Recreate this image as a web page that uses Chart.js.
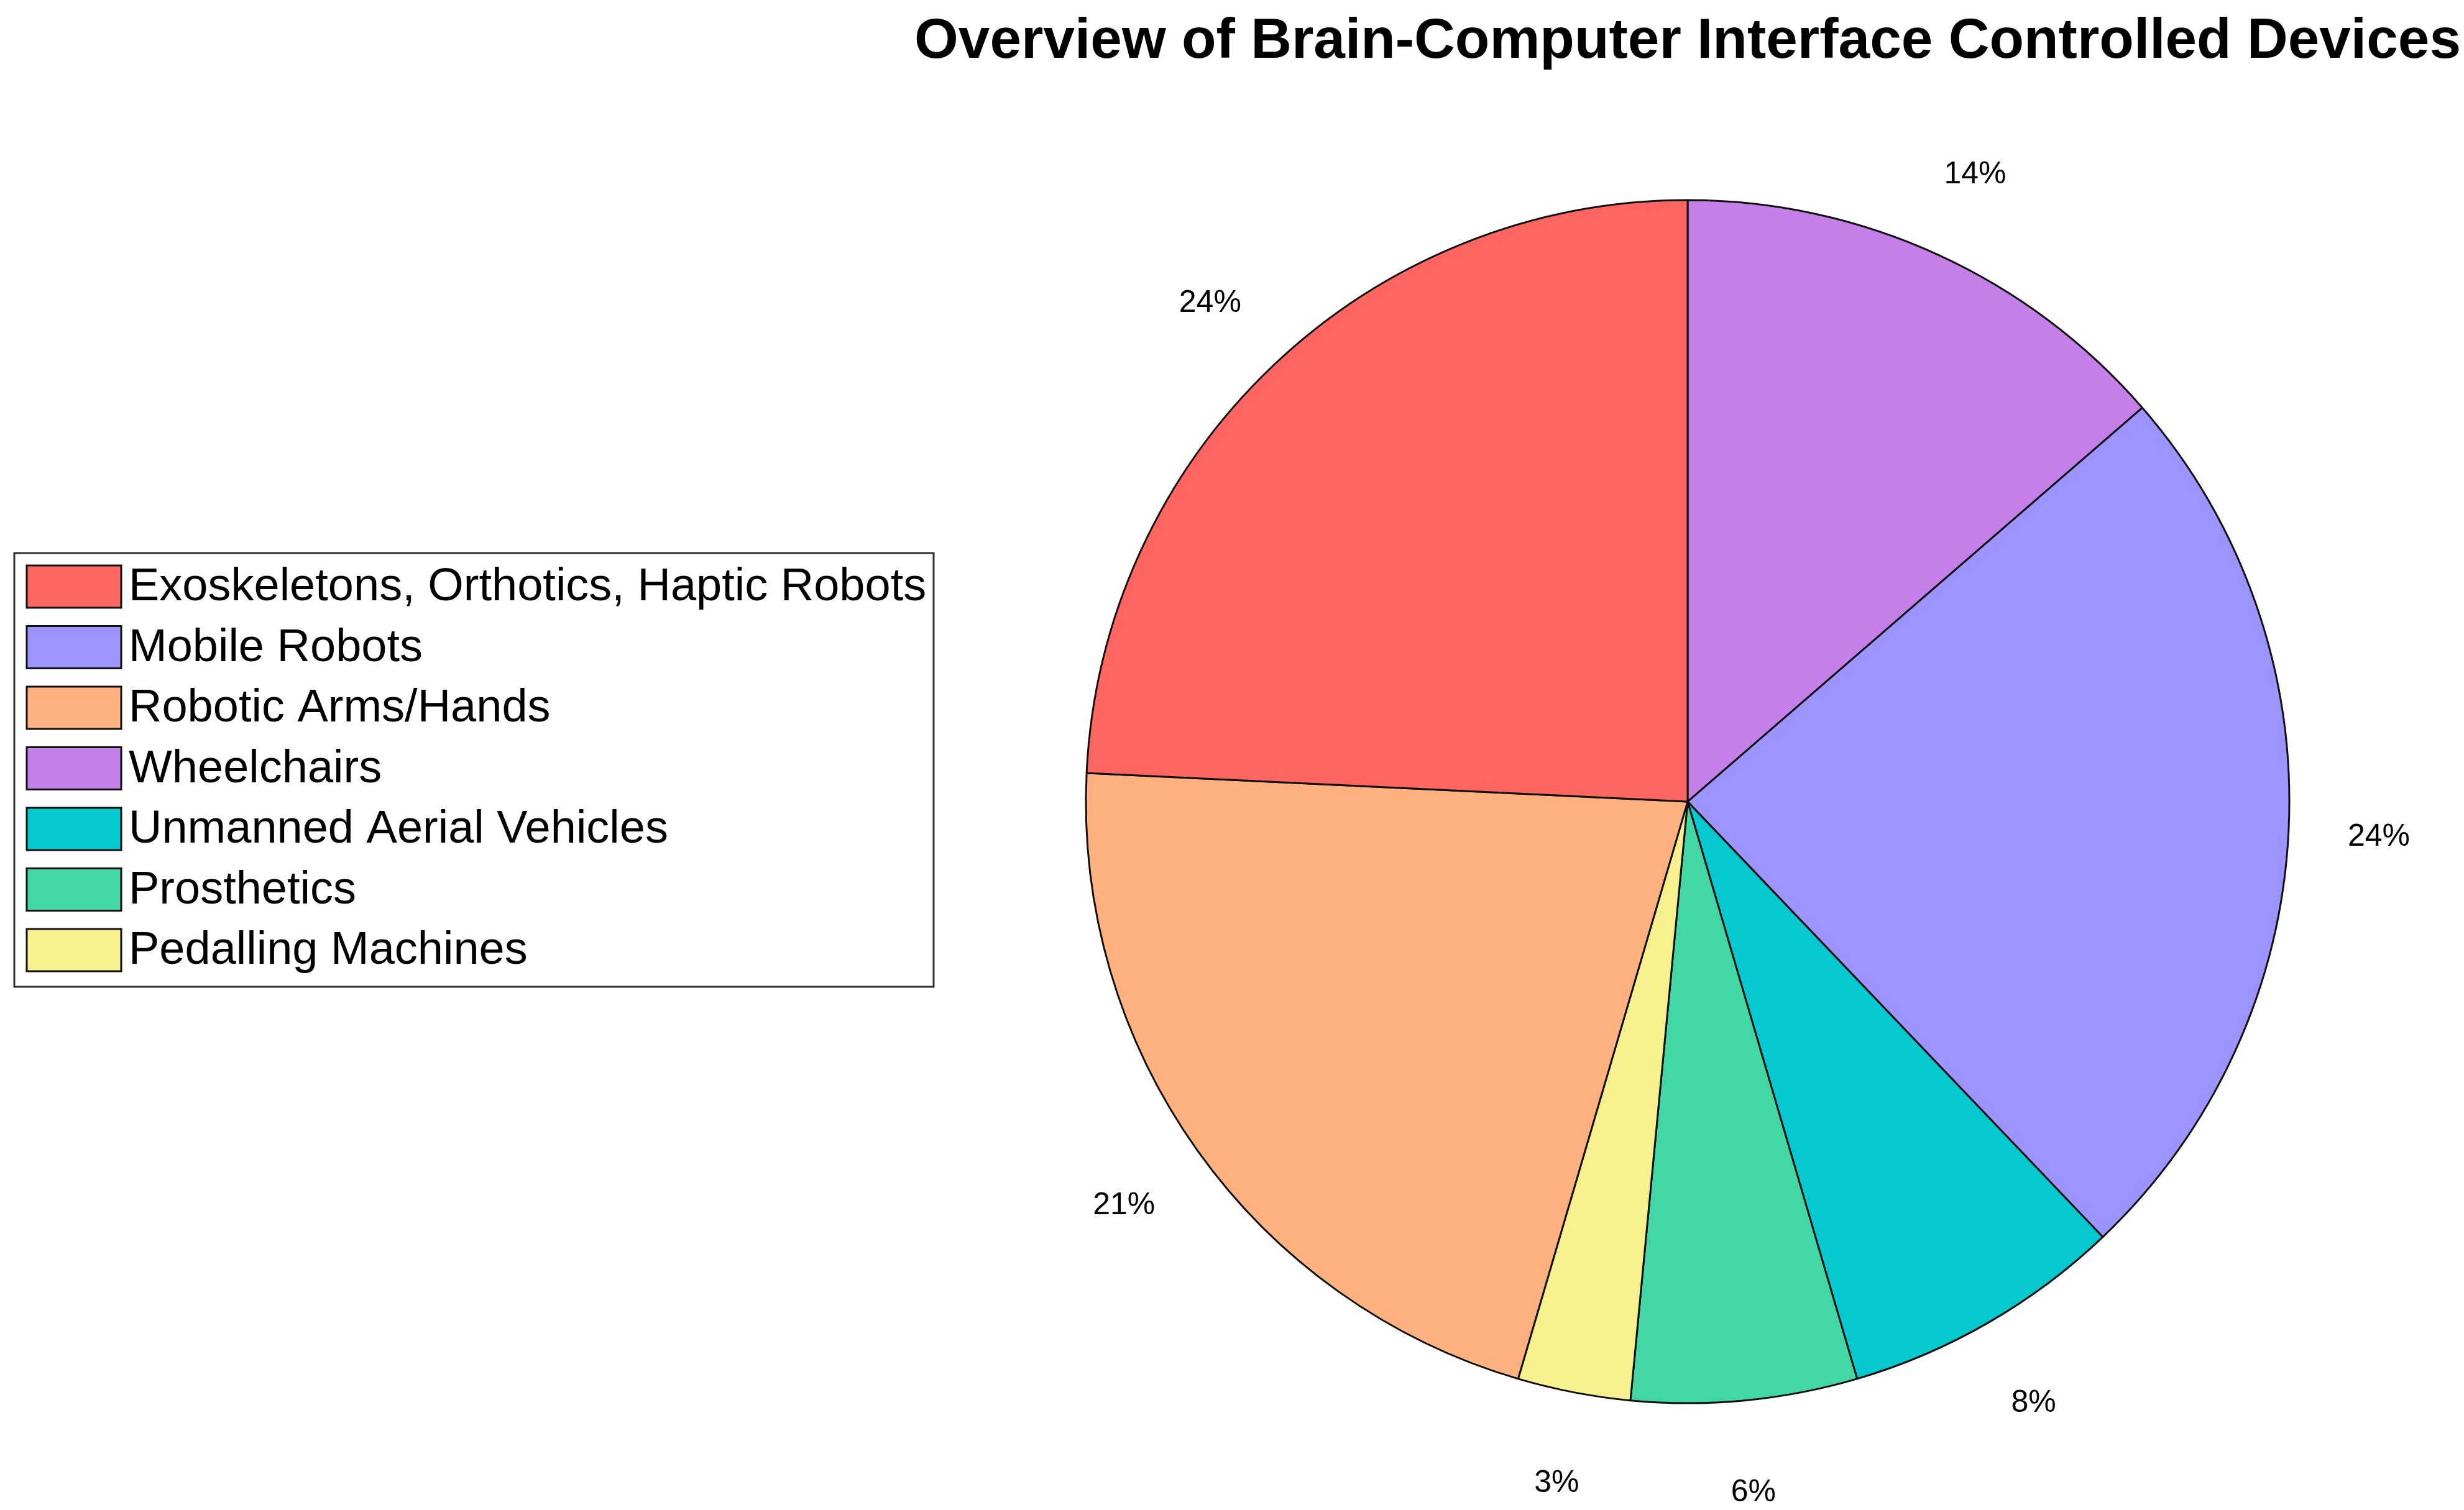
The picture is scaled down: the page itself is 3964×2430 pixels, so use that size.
<!DOCTYPE html>
<html>
<head>
<meta charset="utf-8">
<script src="https://cdn.jsdelivr.net/npm/chart.js@4.4.1/dist/chart.umd.min.js"></script>
<style>
  html, body { margin: 0; padding: 0; background: #fff; }
  #wrap { width: 3964px; height: 2430px; }
</style>
</head>
<body>
<div id="wrap"><canvas id="bciPie"></canvas></div>
<script>
// slices in the order they sit on the pie, clockwise from 12 o'clock
const categories = ['Wheelchairs', 'Mobile Robots', 'Unmanned Aerial Vehicles', 'Prosthetics',
  'Pedalling Machines', 'Robotic Arms/Hands', 'Exoskeletons, Orthotics, Haptic Robots'];
const deviceCounts = [9, 16, 5, 4, 2, 14, 16];
const sliceColors = ['#C47FE8', '#9D94FF', '#06C9D0', '#44D7A6', '#F7F08E', '#FFB27F', '#FF6661'];

// legend is listed in a different order than the slices
const legendOrder = ['Exoskeletons, Orthotics, Haptic Robots', 'Mobile Robots', 'Robotic Arms/Hands',
  'Wheelchairs', 'Unmanned Aerial Vehicles', 'Prosthetics', 'Pedalling Machines'];

const total = deviceCounts.reduce((a, b) => a + b, 0);
const pctLabels = deviceCounts.map(v => Math.round(v / total * 100) + '%');

const ctx = document.getElementById('bciPie').getContext('2d');

// percent text just outside each slice
const pctPlugin = {
  id: 'pctLabels',
  afterDatasetsDraw(chart) {
    const { ctx } = chart;
    const meta = chart.getDatasetMeta(0);
    ctx.save();
    ctx.font = '50px Arial, sans-serif';
    ctx.fillStyle = '#000';
    ctx.textAlign = 'center';
    ctx.textBaseline = 'middle';
    meta.data.forEach((arc, i) => {
      const { x, y, startAngle, endAngle, outerRadius } = arc.getProps(['x', 'y', 'startAngle', 'endAngle', 'outerRadius'], true);
      const mid = (startAngle + endAngle) / 2;
      const r = outerRadius * 1.15;
      ctx.fillText(pctLabels[i], x + Math.cos(mid) * r, y + Math.sin(mid) * r + 4);
    });
    ctx.restore();
  }
};

// boxed legend on the left, MATLAB style
const boxLegend = {
  id: 'boxLegend',
  afterDraw(chart) {
    const { ctx } = chart;
    const left = 23, top = 890, w = 1479, h = 698;
    const rowH = 97.5, firstRow = 944;
    ctx.save();
    ctx.fillStyle = '#fff';
    ctx.fillRect(left, top, w, h);
    ctx.strokeStyle = '#333';
    ctx.lineWidth = 3;
    ctx.strokeRect(left, top, w, h);
    ctx.font = '74px Arial, sans-serif';
    ctx.textBaseline = 'middle';
    ctx.textAlign = 'left';
    legendOrder.forEach((name, k) => {
      const i = categories.indexOf(name);
      const cy = firstRow + k * rowH;
      ctx.fillStyle = sliceColors[i];
      ctx.fillRect(43, cy - 34, 152, 68);
      ctx.strokeStyle = '#111';
      ctx.lineWidth = 3;
      ctx.strokeRect(43, cy - 34, 152, 68);
      ctx.fillStyle = '#000';
      ctx.fillText(name, 207, cy + 2);
    });
    ctx.restore();
  }
};

new Chart(ctx, {
  type: 'pie',
  data: {
    labels: categories,
    datasets: [{
      data: deviceCounts,
      backgroundColor: sliceColors,
      borderColor: '#111',
      borderWidth: 3,
      radius: 968
    }]
  },
  options: {
    responsive: true,
    maintainAspectRatio: false,
    animation: false,
    // chart area centred on x=2715 and wide enough for the title to sit over the pie
    layout: {
      padding: { left: 1466, right: 0, top: 0, bottom: 172 }
    },
    plugins: {
      legend: { display: false },
      tooltip: { enabled: false },
      title: {
        display: true,
        text: 'Overview of Brain-Computer Interface Controlled Devices',
        color: '#000',
        font: { family: 'Arial, sans-serif', size: 91, weight: 'bold', lineHeight: 1.2 },
        padding: { top: 13, bottom: 200 }
      }
    }
  },
  plugins: [pctPlugin, boxLegend]
});
</script>
</body>
</html>
